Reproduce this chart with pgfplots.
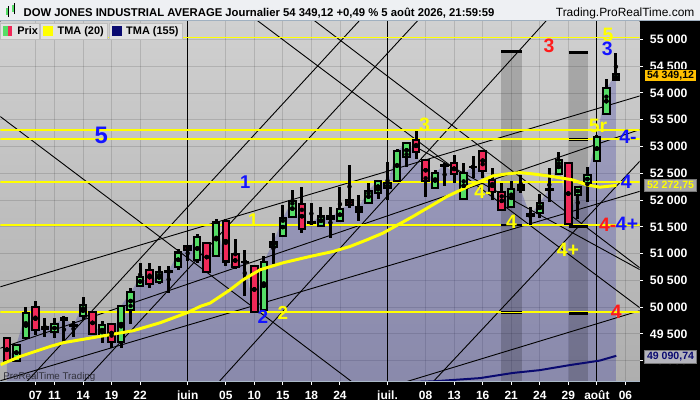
\documentclass[border=0pt]{standalone}
\usepackage{fontspec}
\setmainfont{Liberation Sans}
\usepackage{pgfplots}
\pgfplotsset{compat=1.18}
\usepackage{pgfplotstable}

\definecolor{cgreen}{HTML}{55DD66}
\definecolor{cred}{HTML}{F02858}
\definecolor{lblue}{HTML}{1414FF}
\definecolor{lyellow}{HTML}{FFFF00}
\definecolor{lred}{HTML}{FF1A1A}
\definecolor{navy}{HTML}{0A0A70}
\definecolor{tagorange}{HTML}{FFC000}
\definecolor{bgtop}{HTML}{D0D0D0}
\definecolor{bgbot}{HTML}{AEAEAE}
\definecolor{lav}{RGB}{45,45,165}
\definecolor{axline}{RGB}{170,185,200}
\definecolor{wmark}{RGB}{50,50,60}
\definecolor{titlebg}{RGB}{238,240,243}
\definecolor{titleline}{RGB}{160,176,192}
\definecolor{legbg}{RGB}{226,226,226}
\definecolor{legline}{RGB}{190,190,190}
\definecolor{taggray}{RGB}{166,166,166}
\definecolor{taggrayb}{RGB}{120,120,120}
\definecolor{taggray2}{RGB}{180,180,188}

\pgfplotstableread{
i O H L C
0 49424 49440 48960 48990
1 49000 49320 48980 49300
2 49424 50000 49400 49890
3 49995 50120 49485 49578
4 49600 49800 49450 49620
5 49530 49800 49420 49685
6 49760 49830 49330 49790
7 49650 49740 49450 49670
8 49826 50190 49765 50044
9 49909 49930 49480 49504
10 49467 49733 49330 49672
11 49690 49700 49237 49341
12 49340 50040 49240 50026
13 49952 50356 49690 50274
14 50400 50820 50386 50560
15 50685 50820 50360 50436
16 50461 50760 50440 50648
17 50660 50760 50274 50670
18 50750 51083 50685 51020
19 51150 51160 50853 51060
20 50884 51369 50834 51307
21 51207 51220 50650 50666
22 50960 51643 50950 51580
23 51611 51643 50760 50853
24 50996 51270 50710 50748
25 50840 51071 50200 50850
26 50760 50770 49890 49901
27 49952 50946 49940 50853
28 51132 51393 50810 51207
29 51331 51910 51320 51662
30 51692 52190 51680 51990
31 51928 52251 51382 51468
32 51570 51941 51556 51580
33 51518 51866 51510 51710
34 51710 51866 51289 51643
35 51617 52251 51600 51835
36 52003 52656 51848 51910
37 51785 52096 51600 51878
38 51953 52314 51941 52177
39 52140 52376 52016 52363
40 52221 52717 52003 52314
41 52363 52950 52350 52923
42 52799 53080 52624 53060
43 53122 53290 52762 52904
44 52749 52760 52053 52363
45 52221 52563 52210 52512
46 52640 52687 52264 52656
47 52687 52842 52314 52488
48 52022 52687 52010 52512
49 52610 52824 52408 52624
50 52923 52930 52408 52550
51 52376 52594 52003 52158
52 52152 52326 51810 51817
53 51878 52357 51848 52203
54 52283 52469 52128 52190
55 51740 51866 51537 51705
56 51755 52109 51662 51953
57 52190 52594 51972 52203
58 52488 52892 52480 52749
59 52687 52700 51540 51556
60 52096 52250 51649 52240
61 52314 52624 51972 52469
62 52736 53215 52717 53184
63 53607 54260 53600 54086
64 54241 54750 54230 54349
}\candles

\pgfplotstableread{
i v
-0.67 48926
1.43 49081
4.57 49267
5.94 49336
9.82 49454
13.28 49560
16.12 49709
18.95 49896
20.31 50013
21.36 50076
23.46 50325
24.83 50511
26.61 50698
29.02 50828
31.86 50946
34.27 51039
36.05 51132
37.84 51257
39.52 51382
41.09 51537
42.66 51692
44.45 51878
46.23 52065
48.33 52240
49.70 52344
51.06 52451
52.53 52488
53.89 52512
55.26 52488
57.36 52438
59.46 52376
60.93 52283
62.29 52240
64.07 52273
}\tmaA

\pgfplotstableread{
i v
30.8 48534
44.8 48614
49.7 48674
53.19 48771
56.0 48823
59.14 48917
62.29 49001
64.04 49091
}\tmaB

\newcommand\lbl[1]{\bfseries\fontsize{#1}{#1}\selectfont}

\begin{document}
\begin{tikzpicture}[x=1bp,y=1bp]
\fill[black] (0,0) rectangle (700,400);
\begin{axis}[
  at={(0bp,18bp)}, anchor=south west, scale only axis,
  width=640bp, height=361bp,
  xmin=-0.672, xmax=66.49, ymin=48609, ymax=55341,
  axis background/.style={shade, top color=bgtop, bottom color=bgbot},
  axis line style={draw=none},
  xtick={3,5,8,11,14,19,23,26,29,32,35,40,44,47,50,53,56,59,62,65},
  xticklabels={07,11,14,19,22,juin,05,10,15,18,24,juil.,08,13,16,21,24,29,août,06},
  ytick={49000,49500,50000,50500,51000,51500,52000,52500,53000,53500,54000,54500,55000},
  yticklabels={49 000,49 500,50 000,50 500,51 000,51 500,52 000,52 500,53 000,53 500,54 000,54 500,55 000},
  xtick pos=left, ytick pos=right, yticklabel pos=right,
  tick align=outside, major tick length=3.5bp,
  tick style={white, line width=1bp},
  grid=major,
  major grid style={draw=black, opacity=0.13, line width=0.8bp},
  xticklabel style={font=\lbl{12}, text=white, anchor=base, yshift=-14bp},
  yticklabel style={font=\lbl{12.3}, text=white, anchor=west, inner sep=0pt, xshift=6.7bp},
  unbounded coords=jump,
]
% area under closes
\addplot[draw=none, fill=lav, fill opacity=0.28] table[x=i, y=C] {\candles} \closedcycle;
% dark vertical bands
\addplot[draw=none, fill=black, fill opacity=0.18] coordinates {(51.97,48000) (51.97,54769) (54.13,54769) (54.13,48000)};
\addplot[draw=none, fill=black, fill opacity=0.18] coordinates {(59.03,48000) (59.03,54750) (61.03,54750) (61.03,48000)};
% month lines
\addplot[black, line width=1bp] coordinates {(19,48000) (19,56000)};
\addplot[black, line width=1bp] coordinates {(40,48000) (40,56000)};
\addplot[black, line width=1bp] coordinates {(62,48000) (62,56000)};
% diagonal lines
\addplot[black, line width=0.9bp] coordinates {(-1.72,53696) (37.10,48493)};
\addplot[black, line width=0.9bp] coordinates {(25.56,55453) (67.55,49849)};
\addplot[black, line width=0.9bp] coordinates {(31.33,55483) (67.55,50593)};
\addplot[black, line width=0.9bp] coordinates {(42.77,53010) (67.55,50599)};
\addplot[black, line width=0.9bp] coordinates {(38.06,55546) (1.32,48459)};
\addplot[black, line width=0.9bp] coordinates {(44.19,55546) (7.31,48459)};
\addplot[black, line width=0.9bp] coordinates {(57.69,55546) (21.54,48459)};
\addplot[black, line width=0.9bp] coordinates {(44.01,48459) (72.54,53868)};
\addplot[black, line width=0.9bp] coordinates {(-1.72,50325) (67.55,53999)};
\addplot[black, line width=0.9bp] coordinates {(-1.72,49170) (67.55,53379)};
\addplot[black, line width=0.9bp] coordinates {(-1.72,48571) (67.55,52217)};
\addplot[black, line width=0.9bp] coordinates {(41.30,48571) (67.55,49989)};
% yellow horizontal levels
\addplot[lyellow, line width=1.2bp] coordinates {(-1,55037) (67,55037)};
\addplot[lyellow, line width=2bp] coordinates {(-1,53309) (67,53309)};
\addplot[lyellow, line width=1.2bp] coordinates {(-1,53141) (67,53141)};
\addplot[lyellow, line width=2bp] coordinates {(-1,52333) (67,52333)};
\addplot[lyellow, line width=2bp] coordinates {(-1,51531) (67,51531)};
\addplot[lyellow, line width=2bp] coordinates {(-1,49905) (67,49905)};
% black caps on bands
\addplot[black, line width=3bp] coordinates {(51.97,54769) (54.13,54769)};
\addplot[black, line width=3bp] coordinates {(59.03,54750) (61.03,54750)};
\addplot[black, line width=1.5bp] coordinates {(51.97,51537) (54.13,51537)};
\addplot[black, line width=3bp] coordinates {(59.03,51505) (61.03,51505)};
\addplot[black, line width=1.2bp] coordinates {(51.97,49920) (54.13,49920)};
\addplot[black, line width=1.2bp] coordinates {(51.97,49883) (54.13,49883)};
\addplot[black, line width=3bp] coordinates {(59.03,49890) (61.03,49890)};
\addplot[black, line width=1.2bp] coordinates {(59.03,53154) (61.03,53154)};
\addplot[black, line width=1.2bp] coordinates {(59.03,53109) (61.03,53109)};
% TMA 155
\addplot[navy, line width=2bp] table[x=i, y=v] {\tmaB};
% candles: wicks
\addplot[only marks, mark=none, error bars/.cd, y dir=both, y explicit, error mark=none,
  error bar style={black, line width=3bp}]
  table[x=i, y expr={(\thisrow{H}+\thisrow{L})/2}, y error expr={(\thisrow{H}-\thisrow{L})/2}] {\candles};
% bodies outline
\addplot[only marks, mark=none, error bars/.cd, y dir=both, y explicit, error mark=none,
  error bar style={black, line width=8.5bp}]
  table[x=i, y expr={(\thisrow{O}+\thisrow{C})/2}, y error expr={abs(\thisrow{C}-\thisrow{O})/2+19}] {\candles};
% bodies green
\addplot[only marks, mark=none, error bars/.cd, y dir=both, y explicit, error mark=none,
  error bar style={cgreen, line width=4.5bp}]
  table[x=i, y expr={(\thisrow{O}+\thisrow{C})/2}, y error expr={(\thisrow{C}>=\thisrow{O})*max(abs(\thisrow{C}-\thisrow{O})/2-19,0)}] {\candles};
% bodies red
\addplot[only marks, mark=none, error bars/.cd, y dir=both, y explicit, error mark=none,
  error bar style={cred, line width=4.5bp}]
  table[x=i, y expr={(\thisrow{O}+\thisrow{C})/2}, y error expr={(\thisrow{C}<\thisrow{O})*max(abs(\thisrow{C}-\thisrow{O})/2-19,0)}] {\candles};
% TMA 20
\addplot[lyellow, line width=3bp] table[x=i, y=v] {\tmaA};
% wave labels
\node[font=\lbl{24}, text=lblue, inner sep=0] at (axis cs:9.93,53215) {5};
\node[font=\lbl{18.5}, text=lblue, inner sep=0] at (axis cs:25.04,52339) {1};
\node[font=\lbl{18.5}, text=lyellow, inner sep=0] at (axis cs:25.9,51630) {1};
\node[font=\lbl{19}, text=lblue, inner sep=0] at (axis cs:26.9,49821) {2};
\node[font=\lbl{19}, text=lyellow, inner sep=0] at (axis cs:29.0,49901) {2};
\node[font=\lbl{19.5}, text=lyellow, inner sep=0] at (axis cs:43.9,53402) {3};
\node[font=\lbl{19.5}, text=lyellow, inner sep=0] at (axis cs:50.04,52158) {4-};
\node[font=\lbl{19.5}, text=lyellow, inner sep=0] at (axis cs:53.02,51598) {4};
\node[font=\lbl{19.5}, text=lyellow, inner sep=0] at (axis cs:58.96,51070) {4+};
\node[font=\lbl{19.5}, text=lred, inner sep=0] at (axis cs:56.97,54875) {3};
\node[font=\lbl{19.5}, text=lyellow, inner sep=0] at (axis cs:63.16,55080) {5};
\node[font=\lbl{19.5}, text=lblue, inner sep=0] at (axis cs:63.1,54814) {3};
\node[font=\lbl{19.5}, text=lyellow, inner sep=0] at (axis cs:62.11,53383) {5r};
\node[font=\lbl{19.5}, text=lblue, inner sep=0] at (axis cs:65.26,53172) {4-};
\node[font=\lbl{19.5}, text=lblue, inner sep=0] at (axis cs:65.09,52333) {4};
\node[font=\lbl{19.5}, text=lred, inner sep=0] at (axis cs:63.13,51537) {4-};
\node[font=\lbl{19.5}, text=lblue, inner sep=0] at (axis cs:65.17,51556) {4+};
\node[font=\lbl{19.5}, text=lred, inner sep=0] at (axis cs:64.04,49920) {4};
\end{axis}
% bottom axis border line
\draw[axline, line width=1bp] (0,18) -- (640,18);
% watermark
\node[anchor=base west, inner sep=0, text=wmark, font=\fontsize{9.8}{10}\selectfont] at (2.7,20.5) {ProRealTime Trading};
% title bar
\fill[titlebg] (0,379) rectangle (700,400);
\draw[titleline, line width=1bp] (0,379.5) -- (700,379.5);
\fill[cgreen] (6,385) rectangle (9,392);
\draw[black, line width=0.8bp] (7.5,383) -- (7.5,394);
\fill[cgreen] (12,388) rectangle (15,395);
\draw[black, line width=0.8bp] (13.5,386) -- (13.5,397);
\node[anchor=base west, inner sep=0, font=\lbl{11.35}] at (23,383.5) {DOW JONES INDUSTRIAL AVERAGE Journalier 54 349,12 +0,49 \% 5 août 2026, 21:59:59};
\node[anchor=base west, inner sep=0, font=\fontsize{12}{12}\selectfont] at (556,384) {Trading.ProRealTime.com};
% legend row
\filldraw[fill=legbg, draw=legline] (0,360.7) rectangle (38.5,377.3);
\filldraw[fill=legbg, draw=legline] (40,360.7) rectangle (107,377.3);
\filldraw[fill=legbg, draw=legline] (108.5,360.7) rectangle (181.5,377.3);
\fill[cgreen] (2.7,364.3) rectangle (7.2,374);
\fill[cred] (7.2,364.3) rectangle (11.7,374);
\fill[lyellow] (43,364.3) rectangle (53,374);
\fill[navy] (112,364.3) rectangle (122,374);
\node[anchor=base west, inner sep=0, font=\lbl{11}] at (16.7,365.7) {Prix};
\node[anchor=base west, inner sep=0, font=\lbl{11}] at (57,365.7) {TMA (20)};
\node[anchor=base west, inner sep=0, font=\lbl{11}] at (125.7,365.7) {TMA (155)};
% price tags on right axis
\filldraw[fill=tagorange, draw=black, line width=0.8bp] (645,319) rectangle (697,330.7);
\node[font=\lbl{10.6}, text=black, inner sep=0] at (671,324.85) {54 349,12};
\filldraw[fill=taggray, draw=taggrayb, line width=0.8bp] (645,208.3) rectangle (697,220);
\node[font=\lbl{10.6}, text=lyellow, inner sep=0] at (671,214.15) {52 272,75};
\filldraw[fill=taggray2, draw=taggrayb, line width=0.8bp] (645,36.7) rectangle (697,49);
\node[font=\lbl{10.6}, text=navy, inner sep=0] at (671,42.85) {49 090,74};
\end{tikzpicture}
\end{document}
